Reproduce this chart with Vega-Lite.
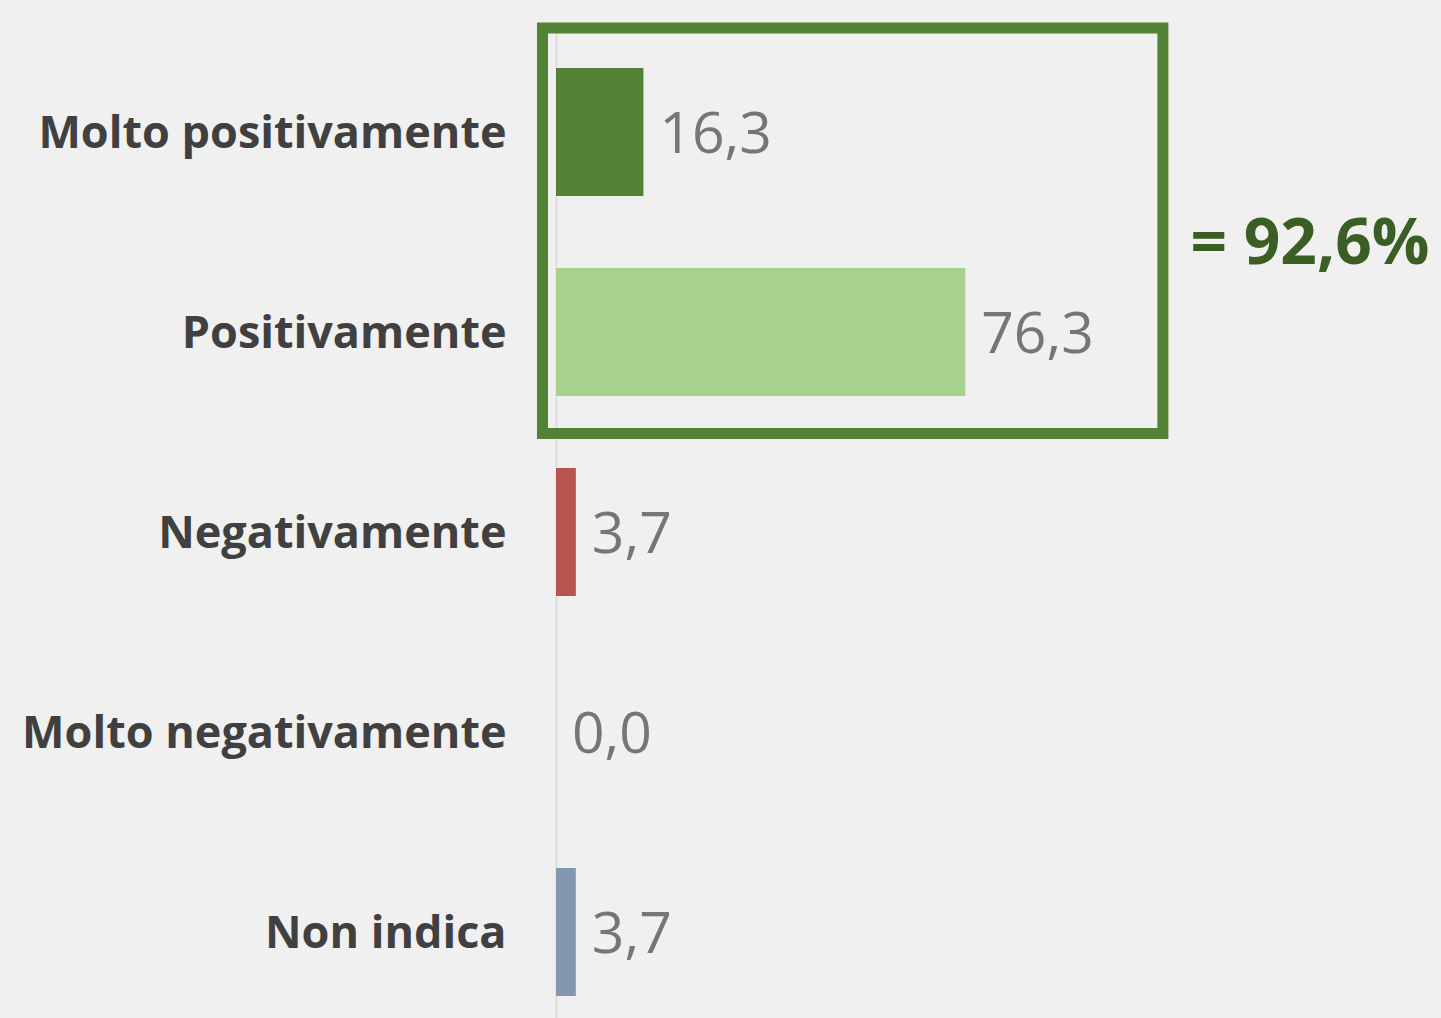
{
  "$schema": "https://vega.github.io/schema/vega-lite/v6.json",
  "width": 885,
  "height": 987,
  "autosize": {"type": "none"},
  "padding": {"left": 556, "top": 31, "right": 0, "bottom": 0},
  "background": "#f0f0f0",
  "config": {
    "view": {"stroke": null},
    "locale": {"number": {"decimal": ",", "thousands": ".", "grouping": [3], "currency": ["€", ""]}}
  },
  "layer": [
    {
      "data": {"values": [
        {"cat": "Molto positivamente", "value": 16.3},
        {"cat": "Positivamente", "value": 76.3},
        {"cat": "Negativamente", "value": 3.7},
        {"cat": "Molto negativamente", "value": 0.0},
        {"cat": "Non indica", "value": 3.7}
      ]},
      "encoding": {
        "y": {
          "field": "cat", "type": "nominal", "sort": null,
          "scale": {"paddingInner": 0.36, "paddingOuter": 0.1475, "align": 0.627},
          "axis": {
            "title": null, "ticks": false, "labelPadding": 50, "labelOffset": 2,
            "labelFont": "Open Sans", "labelFontWeight": "bold", "labelFontSize": 45,
            "labelColor": "#404040", "labelLimit": 0,
            "domain": true, "domainColor": "#dcdcdc", "domainWidth": 2
          }
        },
        "x": {"field": "value", "type": "quantitative", "scale": {"domain": [0, 165]}, "axis": null}
      },
      "layer": [
        {
          "mark": {"type": "bar"},
          "encoding": {
            "color": {
              "field": "cat", "type": "nominal", "legend": null,
              "scale": {
                "domain": ["Molto positivamente", "Positivamente", "Negativamente", "Molto negativamente", "Non indica"],
                "range": ["#548235", "#a9d18e", "#b85450", "#c0504d", "#8497b0"]
              }
            }
          }
        },
        {
          "mark": {"type": "text", "align": "left", "baseline": "middle", "dx": 16, "dy": 4, "font": "Open Sans", "fontSize": 57, "color": "#767676"},
          "encoding": {"text": {"field": "value", "type": "quantitative", "format": ".1f"}}
        }
      ]
    },
    {
      "data": {"values": [{"label": "= 92,6%"}]},
      "layer": [
        {
          "mark": {"type": "rect", "filled": false, "stroke": "#548235", "strokeWidth": 11},
          "encoding": {
            "x": {"datum": -2.52, "type": "quantitative", "scale": {"domain": [0, 165]}, "axis": null},
            "x2": {"datum": 113.15},
            "y": {"datum": -0.52, "type": "quantitative", "scale": {"domain": [-0.505, 4.43], "reverse": true}, "axis": null},
            "y2": {"datum": 1.5075}
          }
        },
        {
          "mark": {"type": "text", "align": "left", "baseline": "middle", "font": "Open Sans", "fontWeight": "bold", "fontSize": 64, "color": "#3b5e24"},
          "encoding": {
            "x": {"datum": 118.3, "type": "quantitative", "scale": {"domain": [0, 165]}, "axis": null},
            "y": {"datum": 0.565, "type": "quantitative", "scale": {"domain": [-0.505, 4.43], "reverse": true}, "axis": null},
            "text": {"field": "label", "type": "nominal"}
          }
        }
      ]
    }
  ],
  "resolve": {"scale": {"y": "independent"}}
}
